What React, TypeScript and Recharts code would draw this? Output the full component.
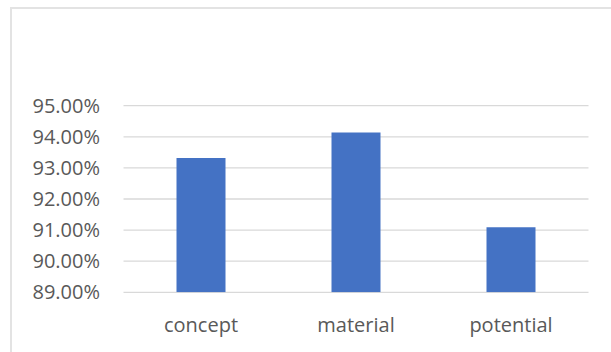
import React from "react";
import { BarChart, Bar, XAxis, YAxis, CartesianGrid } from "recharts";

const categories = ["concept", "material", "potential"];
const values = [93.32, 94.14, 91.09];
const yTicks = [89, 90, 91, 92, 93, 94, 95];

const data = categories.map((name, i) => ({ name, value: values[i] }));

const FONT = "'Open Sans', sans-serif";

export default function App() {
  return (
    <div style={{ position: "absolute", left: 0, top: 0, width: 611, height: 352, overflow: "hidden", background: "#fff" }}>
      <div
        style={{
          position: "absolute",
          left: 10,
          top: 7,
          width: 640,
          height: 400,
          border: "2px solid #e3e3e3",
          boxSizing: "border-box",
        }}
      />
      <div style={{ position: "absolute", left: 0, top: 0 }}>
        <BarChart
          width={611}
          height={352}
          data={data}
          margin={{ top: 105.7, right: 22.5, bottom: 19.7, left: 0 }}
          barCategoryGap={0}
        >
          <CartesianGrid vertical={false} stroke="#d9d9d9" strokeWidth={1.3} />
          <XAxis
            dataKey="name"
            axisLine={false}
            tickLine={false}
            tickSize={0}
            tickMargin={25.2}
            height={40}
            interval={0}
            tick={{ fill: "#595959", fontSize: 20, fontFamily: FONT }}
          />
          <YAxis
            domain={[89, 95]}
            ticks={yTicks}
            allowDataOverflow
            axisLine={false}
            tickLine={false}
            tickSize={0}
            tickMargin={23.5}
            width={123.5}
            interval={0}
            tickFormatter={(v: number) => v.toFixed(2) + "%"}
            tick={{ fill: "#595959", fontSize: 20, fontFamily: FONT }}
          />
          <Bar dataKey="value" fill="#4472C4" barSize={49} isAnimationActive={false} />
        </BarChart>
      </div>
    </div>
  );
}
